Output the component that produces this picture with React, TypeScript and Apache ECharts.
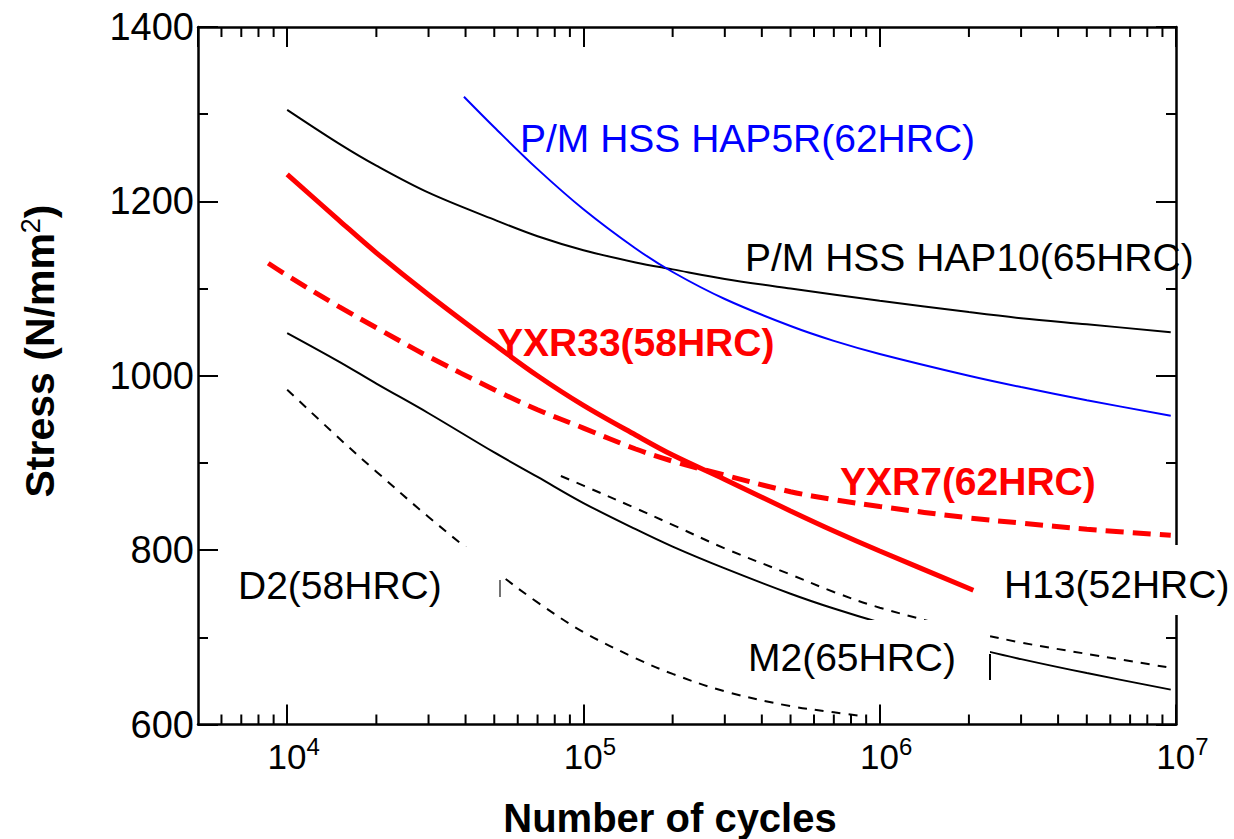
import React, { useEffect, useRef } from "react";
import * as echarts from "echarts";

const FONT = '"Liberation Sans", Arial, Helvetica, sans-serif';

// Axis ranges and ticks
const X_MIN = 5000;
const X_MAX = 1e7;
const Y_MIN = 600;
const Y_MAX = 1400;
const Y_STEP = 200;
const X_MINOR_TICKS = [
  6e3, 7e3, 8e3, 9e3,
  2e4, 3e4, 4e4, 5e4, 6e4, 7e4, 8e4, 9e4,
  2e5, 3e5, 4e5, 5e5, 6e5, 7e5, 8e5, 9e5,
  2e6, 3e6, 4e6, 5e6, 6e6, 7e6, 8e6, 9e6,
];

// Series values: [number of cycles, stress N/mm2]
const HAP10: [number, number][] = [
  [1e4, 1305], [1.5e4, 1266], [2e4, 1241], [3e4, 1210], [5e4, 1179],
  [7e4, 1160], [1e5, 1144], [1.5e5, 1130], [2e5, 1122], [3e5, 1111],
  [5e5, 1100], [1e6, 1086], [2e6, 1073], [3e6, 1066], [5e6, 1059], [9.6e6, 1050],
];
const HAP5R: [number, number][] = [
  [3.95e4, 1320], [5e4, 1285], [7e4, 1237], [1e5, 1191], [1.5e5, 1146],
  [2e5, 1119], [3e5, 1088], [5e5, 1057], [7e5, 1040], [1e6, 1025],
  [2e6, 1000], [3e6, 987], [5e6, 972], [9.6e6, 954],
];
const YXR33: [number, number][] = [
  [1e4, 1231], [1.5e4, 1178], [2e4, 1141], [3e4, 1093], [5e4, 1036],
  [7e4, 1000], [1e5, 966], [1.5e5, 932], [2e5, 909], [3e5, 881],
  [5e5, 845], [7e5, 822], [1e6, 799], [2.07e6, 754],
];
const YXR7: [number, number][] = [
  [8.63e3, 1129], [1e4, 1115], [1.5e4, 1079], [2e4, 1055], [3e4, 1022],
  [5e4, 984], [7e4, 961], [1e5, 940], [1.5e5, 916], [2e5, 902],
  [3e5, 886], [5e5, 867], [7e5, 858], [1e6, 850], [2e6, 837],
  [3e6, 831], [5e6, 824], [9.6e6, 817],
];
const M2: [number, number][] = [
  [1e4, 1049], [1.5e4, 1016], [2e4, 991], [3e4, 957], [5e4, 912],
  [7e4, 884], [1e5, 854], [1.5e5, 824], [2e5, 804], [3e5, 779],
  [5e5, 750], [7e5, 733], [1e6, 717], [2e6, 689], [3e6, 675],
  [5e6, 659], [9.6e6, 640],
];
const H13: [number, number][] = [
  [8.39e4, 885], [1e5, 874], [1.5e5, 848], [2e5, 829], [3e5, 802],
  [5e5, 772], [7e5, 752], [1e6, 734], [2e6, 707], [3e6, 694],
  [5e6, 681], [9.6e6, 665],
];
const D2: [number, number][] = [
  [1e4, 984], [1.5e4, 928], [2e4, 890], [3e4, 838], [5e4, 777],
  [7e4, 740], [1e5, 706], [1.5e5, 676], [2e5, 658], [3e5, 638],
  [5e5, 621], [7e5, 614], [9e5, 609],
];

const LABEL_TEXTS = {
  hap5r: "P/M HSS HAP5R(62HRC)",
  hap10: "P/M HSS HAP10(65HRC)",
  yxr33: "YXR33(58HRC)",
  yxr7: "YXR7(62HRC)",
  d2: "D2(58HRC)",
  m2: "M2(65HRC)",
  h13: "H13(52HRC)",
};

function lineSeries(name: string, data: [number, number][], color: string, width: number, type: any) {
  return {
    type: "line",
    name,
    data,
    showSymbol: false,
    symbol: "none",
    smooth: 0.35,
    silent: true,
    z: 3,
    lineStyle: { color, width, type, cap: "butt" },
  };
}

function xAxis(position: string, showLabel: boolean) {
  return {
    type: "log",
    logBase: 10,
    min: X_MIN,
    max: X_MAX,
    position,
    axisLine: { show: true, onZero: false, lineStyle: { color: "#000", width: 2.5 } },
    axisTick: { show: true, inside: true, length: 20, lineStyle: { color: "#000", width: 2 } },
    minorTick: { show: false },
    splitLine: { show: false },
    axisLabel: showLabel
      ? {
          show: true,
          margin: 10,
          color: "#000",
          showMinLabel: false,
          formatter: (v: number) => {
            const e = Math.log10(v);
            if (Math.abs(e - Math.round(e)) > 1e-6) return "";
            return `{sp| }{b|10}{sup|${Math.round(e)}}`;
          },
          rich: {
            sp: { width: 13, fontSize: 24, fontFamily: FONT },
            b: { fontSize: 35, lineHeight: 44, fontFamily: FONT, color: "#000" },
            sup: { fontSize: 24, lineHeight: 24, verticalAlign: "top", fontFamily: FONT, color: "#000" },
          },
        }
      : { show: false },
  };
}

function yAxis(position: string, showLabel: boolean) {
  return {
    type: "value",
    min: Y_MIN,
    max: Y_MAX,
    interval: Y_STEP,
    position,
    axisLine: { show: true, onZero: false, lineStyle: { color: "#000", width: 2.5 } },
    axisTick: { show: true, inside: true, length: 20, lineStyle: { color: "#000", width: 2 } },
    minorTick: { show: true, splitNumber: 2, length: 10, lineStyle: { color: "#000", width: 2 } },
    splitLine: { show: false },
    minorSplitLine: { show: false },
    axisLabel: showLabel
      ? {
          show: true,
          color: "#000",
          fontSize: 38,
          fontFamily: FONT,
          margin: 4,
          formatter: (v: number) => String(v),
        }
      : { show: false },
  };
}

function label(text: string, x: number, y: number, color: string, bold: boolean) {
  return {
    type: "text",
    x,
    y,
    z: 12,
    silent: true,
    style: {
      text,
      fill: color,
      fontSize: 39,
      fontFamily: FONT,
      fontWeight: bold ? "bold" : "normal",
      align: "left",
      verticalAlign: "middle",
    },
  };
}

function mask(x: number, y: number, width: number, height: number) {
  return { type: "rect", z: 10, silent: true, shape: { x, y, width, height }, style: { fill: "#fff" } };
}

function buildOption() {
  return {
    animation: false,
    backgroundColor: "#fff",
    grid: { left: 198, right: 58, top: 27, bottom: 114.5, containLabel: false },
    xAxis: [xAxis("bottom", true), xAxis("top", false)],
    yAxis: [yAxis("left", true), yAxis("right", false)],
    series: [
      lineSeries("P/M HSS HAP10(65HRC)", HAP10, "#000", 2, "solid"),
      lineSeries("P/M HSS HAP5R(62HRC)", HAP5R, "#0000ff", 2, "solid"),
      lineSeries("M2(65HRC)", M2, "#000", 2, "solid"),
      lineSeries("H13(52HRC)", H13, "#000", 2, [9, 8]),
      lineSeries("D2(58HRC)", D2, "#000", 2, [9, 8]),
      lineSeries("YXR7(62HRC)", YXR7, "#ff0000", 5, [18, 9]),
      lineSeries("YXR33(58HRC)", YXR33, "#ff0000", 5, "solid"),
      {
        type: "custom",
        name: "minorTicks",
        silent: true,
        clip: false,
        z: 4,
        data: X_MINOR_TICKS.map((v) => [v, Y_MIN]),
        encode: { x: 0, y: 1 },
        renderItem: (_params: any, api: any) => {
          const v = api.value(0);
          const b = api.coord([v, Y_MIN]);
          const t = api.coord([v, Y_MAX]);
          return {
            type: "group",
            children: [
              { type: "line", shape: { x1: b[0], y1: b[1], x2: b[0], y2: b[1] - 10 }, style: { stroke: "#000", lineWidth: 2 } },
              { type: "line", shape: { x1: t[0], y1: t[1], x2: t[0], y2: t[1] + 10 }, style: { stroke: "#000", lineWidth: 2 } },
            ],
          };
        },
      },
    ],
    graphic: {
      elements: [
        mask(226, 547, 274, 59),
        mask(740, 620, 250, 68),
        mask(976, 545, 258, 70),
        { type: "line", z: 11, silent: true, shape: { x1: 500, y1: 580, x2: 500, y2: 597 }, style: { stroke: "#444", lineWidth: 1.5 } },
        { type: "line", z: 11, silent: true, shape: { x1: 990, y1: 654, x2: 990, y2: 680 }, style: { stroke: "#000", lineWidth: 2 } },
        label(LABEL_TEXTS.hap5r, 520, 138, "#0000ff", false),
        label(LABEL_TEXTS.hap10, 745, 257, "#000", false),
        label(LABEL_TEXTS.yxr33, 497, 342, "#ff0000", true),
        label(LABEL_TEXTS.yxr7, 840, 481, "#ff0000", true),
        label(LABEL_TEXTS.d2, 238, 585, "#000", false),
        label(LABEL_TEXTS.m2, 748, 657, "#000", false),
        label(LABEL_TEXTS.h13, 1004, 584, "#000", false),
        {
          type: "text",
          x: 670,
          y: 818,
          z: 12,
          silent: true,
          style: {
            text: "Number of cycles",
            fill: "#000",
            fontSize: 40,
            fontWeight: "bold",
            fontFamily: FONT,
            align: "center",
            verticalAlign: "middle",
          },
        },
        {
          type: "text",
          x: 40,
          y: 351,
          rotation: Math.PI / 2,
          z: 12,
          silent: true,
          style: {
            text: "{a|Stress (N/mm}{s|2}{a|)}",
            align: "center",
            verticalAlign: "middle",
            rich: {
              a: { fontSize: 41, fontWeight: "bold", fontFamily: FONT, lineHeight: 46, fill: "#000", color: "#000" },
              s: { fontSize: 27, fontWeight: "normal", fontFamily: FONT, lineHeight: 27, verticalAlign: "top", fill: "#000", color: "#000" },
            },
          },
        },
      ],
    },
  };
}

export default function App() {
  const ref = useRef<HTMLDivElement>(null);
  useEffect(() => {
    if (!ref.current) return;
    const chart = echarts.init(ref.current, undefined, { renderer: "svg" });
    chart.setOption(buildOption() as any);
    return () => chart.dispose();
  }, []);
  return (
    <div
      ref={ref}
      style={{ position: "fixed", left: 0, top: 0, width: 1234, height: 839, background: "#fff" }}
    />
  );
}
